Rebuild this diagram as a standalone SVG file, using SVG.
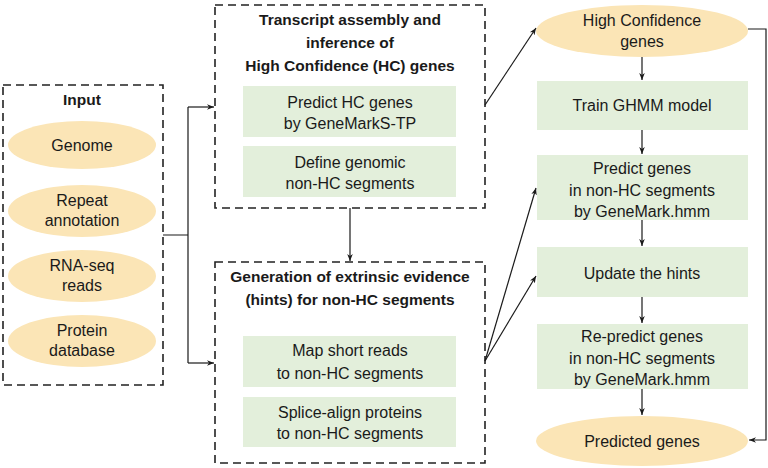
<svg xmlns="http://www.w3.org/2000/svg" width="768" height="468" viewBox="0 0 768 468">
<defs>
<marker id="ah" viewBox="0 0 10 10" refX="10" refY="5" markerWidth="7" markerHeight="7" orient="auto" markerUnits="userSpaceOnUse">
<path d="M0,1 L10,5 L0,9 L3,5 Z" fill="#1a1a1a"/>
</marker>
<style>
.dash{fill:#fff;stroke:#222;stroke-width:1.6;stroke-dasharray:8 5}
.ell{fill:#fbe5b6;stroke:none}
.box{fill:#e3efdb;stroke:none}
.t{font-family:"Liberation Sans",Arial,sans-serif;font-size:16px;fill:#1a1a1a;text-anchor:middle}
.b{font-family:"Liberation Sans",Arial,sans-serif;font-size:15.5px;font-weight:bold;fill:#1a1a1a;text-anchor:middle}
.c{fill:none;stroke:#1a1a1a;stroke-width:1.2}
</style>
</defs>
<rect width="768" height="468" fill="#fff"/>

<g id="input">
<rect class="dash" x="3" y="85" width="160" height="300"/>
<text class="b" x="82" y="105">Input</text>
<g id="genome"><ellipse class="ell" cx="82" cy="145" rx="74" ry="24"/><text class="t" x="82" y="151">Genome</text></g>
<g id="repeat"><ellipse class="ell" cx="82" cy="211" rx="74" ry="26"/><text class="t" x="82" y="206">Repeat</text><text class="t" x="82" y="226">annotation</text></g>
<g id="rnaseq"><ellipse class="ell" cx="82" cy="276" rx="74" ry="26"/><text class="t" x="82" y="271">RNA-seq</text><text class="t" x="82" y="291">reads</text></g>
<g id="protein"><ellipse class="ell" cx="82" cy="341" rx="74" ry="26"/><text class="t" x="82" y="336">Protein</text><text class="t" x="82" y="356">database</text></g>
</g>

<g id="transcript">
<rect class="dash" x="215" y="5" width="270" height="203"/>
<text class="b" x="350" y="25">Transcript assembly and</text>
<text class="b" x="350" y="48">inference of</text>
<text class="b" x="350" y="71">High Confidence (HC) genes</text>
<g id="predictHC"><rect class="box" x="243" y="86" width="213" height="51"/><text class="t" x="350" y="108">Predict HC genes</text><text class="t" x="350" y="129">by GeneMarkS-TP</text></g>
<g id="define"><rect class="box" x="243" y="146" width="213" height="51"/><text class="t" x="350" y="168">Define genomic</text><text class="t" x="350" y="189">non-HC segments</text></g>
</g>

<g id="generation">
<rect class="dash" x="215" y="262" width="270" height="201"/>
<text class="b" x="350" y="282">Generation of extrinsic evidence</text>
<text class="b" x="350" y="305">(hints) for non-HC segments</text>
<g id="map"><rect class="box" x="243" y="336" width="213" height="51"/><text class="t" x="350" y="356">Map short reads</text><text class="t" x="350" y="379">to non-HC segments</text></g>
<g id="splice"><rect class="box" x="243" y="397" width="213" height="50"/><text class="t" x="350" y="418">Splice-align proteins</text><text class="t" x="350" y="439">to non-HC segments</text></g>
</g>

<g id="hcgenes"><ellipse class="ell" cx="642" cy="31" rx="106" ry="26"/><text class="t" x="642" y="26">High Confidence</text><text class="t" x="642" y="47">genes</text></g>
<g id="train"><rect class="box" x="537" y="81" width="211" height="49"/><text class="t" x="642" y="111">Train GHMM model</text></g>
<g id="predict"><rect class="box" x="537" y="155" width="211" height="65"/><text class="t" x="642" y="174">Predict genes</text><text class="t" x="642" y="196">in non-HC segments</text><text class="t" x="642" y="217">by GeneMark.hmm</text></g>
<g id="update"><rect class="box" x="537" y="247" width="211" height="50"/><text class="t" x="642" y="279">Update the hints</text></g>
<g id="repredict"><rect class="box" x="537" y="324" width="211" height="65"/><text class="t" x="642" y="342">Re-predict genes</text><text class="t" x="642" y="364">in non-HC segments</text><text class="t" x="642" y="385">by GeneMark.hmm</text></g>
<g id="predicted"><ellipse class="ell" cx="642" cy="441" rx="106" ry="25"/><text class="t" x="642" y="447">Predicted genes</text></g>

<g id="connectors">
<path class="c" d="M163,235 H188 M188,107 V363"/>
<path class="c" d="M188,107 H214" marker-end="url(#ah)"/>
<path class="c" d="M188,363 H214" marker-end="url(#ah)"/>
<path class="c" d="M350,208 V261" marker-end="url(#ah)"/>
<path class="c" d="M485,105 L536,28" marker-end="url(#ah)"/>
<path class="c" d="M485,361 L536,188" marker-end="url(#ah)"/>
<path class="c" d="M485,361 L536,276" marker-end="url(#ah)"/>
<path class="c" d="M642,57 V80" marker-end="url(#ah)"/>
<path class="c" d="M642,130 V154" marker-end="url(#ah)"/>
<path class="c" d="M642,220 V246" marker-end="url(#ah)"/>
<path class="c" d="M642,297 V323" marker-end="url(#ah)"/>
<path class="c" d="M642,389 V415" marker-end="url(#ah)"/>
<path class="c" d="M748,29 H766 V440 H749" marker-end="url(#ah)"/>
</g>
</svg>
